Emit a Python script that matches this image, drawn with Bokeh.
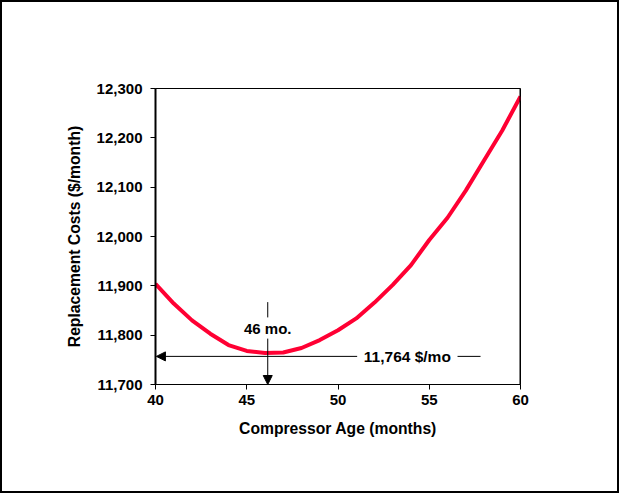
from bokeh.plotting import figure
from bokeh.models import (Range1d, FixedTicker, NumeralTickFormatter, Label, Arrow,
                          NormalHead, Span, ColumnDataSource)
from bokeh.embed import file_html
from bokeh.resources import INLINE

# ---- data ----
months = [40, 41, 42, 43, 44, 45, 46, 47, 48, 49, 50,
          51, 52, 53, 54, 55, 56, 57, 58, 59, 60]
cost = [11904, 11864, 11830, 11803, 11780, 11768, 11764, 11765, 11774, 11790, 11810,
        11834, 11866, 11902, 11942, 11993, 12038, 12093, 12154, 12215, 12284]
x_ticks = [40, 45, 50, 55, 60]
y_ticks = [11700, 11800, 11900, 12000, 12100, 12200, 12300]
opt_month = 46.15
opt_cost_line = 11757
opt_label = "46 mo."
cost_label = "11,764 $/mo"
title_text = "Compressor Intervals"

FONT = "Liberation Sans"

p = figure(frame_width=365, frame_height=296, output_backend="svg",
           toolbar_location=None,
           x_range=Range1d(40, 60), y_range=Range1d(11700, 12300),
           min_border_left=153, min_border_right=97,
           min_border_top=86, min_border_bottom=107)
p.styles = {"border": "2px solid black"}
p.background_fill_color = "white"
p.border_fill_color = "white"
p.outline_line_color = "black"
p.outline_line_width = 1
p.grid.visible = False

for ax in (p.xaxis[0], p.yaxis[0]):
    ax.major_label_text_font = FONT
    ax.major_label_text_font_style = "bold"
    ax.major_label_text_font_size = "15px"
    ax.major_label_text_color = "black"
    ax.axis_label_text_font = FONT
    ax.axis_label_text_font_style = "bold"
    ax.axis_label_text_font_size = "15.7px"
    ax.axis_label_text_color = "black"
    ax.major_tick_in = 0
    ax.major_tick_out = 5
    ax.minor_tick_line_color = None
    ax.axis_line_color = "black"
    ax.major_tick_line_color = "black"

p.xaxis[0].ticker = FixedTicker(ticks=x_ticks)
p.yaxis[0].ticker = FixedTicker(ticks=y_ticks)
p.yaxis[0].formatter = NumeralTickFormatter(format="0,0")
p.yaxis[0].axis_line_width = 2
p.xaxis[0].axis_line_width = 1
p.xaxis[0].axis_label = "Compressor Age (months)"
p.yaxis[0].axis_label = "Replacement Costs ($/month)"
p.yaxis[0].major_label_standoff = 8
p.yaxis[0].axis_label_standoff = 11
p.xaxis[0].major_label_standoff = 5
p.xaxis[0].axis_label_standoff = 12

p.add_layout(Span(location=60, dimension="height", line_color="black", line_width=2))

src = ColumnDataSource(dict(x=months, y=cost))
p.line("x", "y", source=src, line_color="#FF0033", line_width=4)

# vertical annotation arrow (with gap for the text)
p.segment(x0=[opt_month], y0=[11867], x1=[opt_month], y1=[11836], line_color="black", line_width=1)
p.add_layout(Arrow(end=NormalHead(size=9, fill_color="black", line_color="black"),
                   x_start=opt_month, y_start=11793, x_end=opt_month, y_end=11700,
                   line_color="black", line_width=1))
p.add_layout(Label(x=opt_month, y=11813, text=opt_label, text_align="center",
                   text_baseline="middle", text_font=FONT, text_font_style="bold",
                   text_font_size="15px", text_color="black"))

# horizontal annotation arrow
p.add_layout(Arrow(end=NormalHead(size=9, fill_color="black", line_color="black"),
                   x_start=51.05, y_start=opt_cost_line, x_end=40.05, y_end=opt_cost_line,
                   line_color="black", line_width=1))
p.add_layout(Label(x=53.8, y=opt_cost_line, text=cost_label, text_align="center",
                   text_baseline="middle", text_font=FONT, text_font_style="bold",
                   text_font_size="15.5px", text_color="black"))
p.segment(x0=[56.55], y0=[opt_cost_line], x1=[57.81], y1=[opt_cost_line],
          line_color="black", line_width=1)

# title
p.add_layout(Label(x=50, y=12300, x_offset=2, y_offset=27, text=title_text,
                   text_align="center", text_baseline="middle", text_font=FONT,
                   text_font_style="bold", text_font_size="18px", text_color="black"))

# tiny stray mark
p.add_layout(Label(x=40, y=11700, x_offset=-78, y_offset=-47, text="ff",
                   text_align="center", text_baseline="middle", text_font=FONT,
                   text_font_style="bold", text_font_size="7px", text_color="black"))

open("out.html", "w").write(file_html(p, INLINE))
